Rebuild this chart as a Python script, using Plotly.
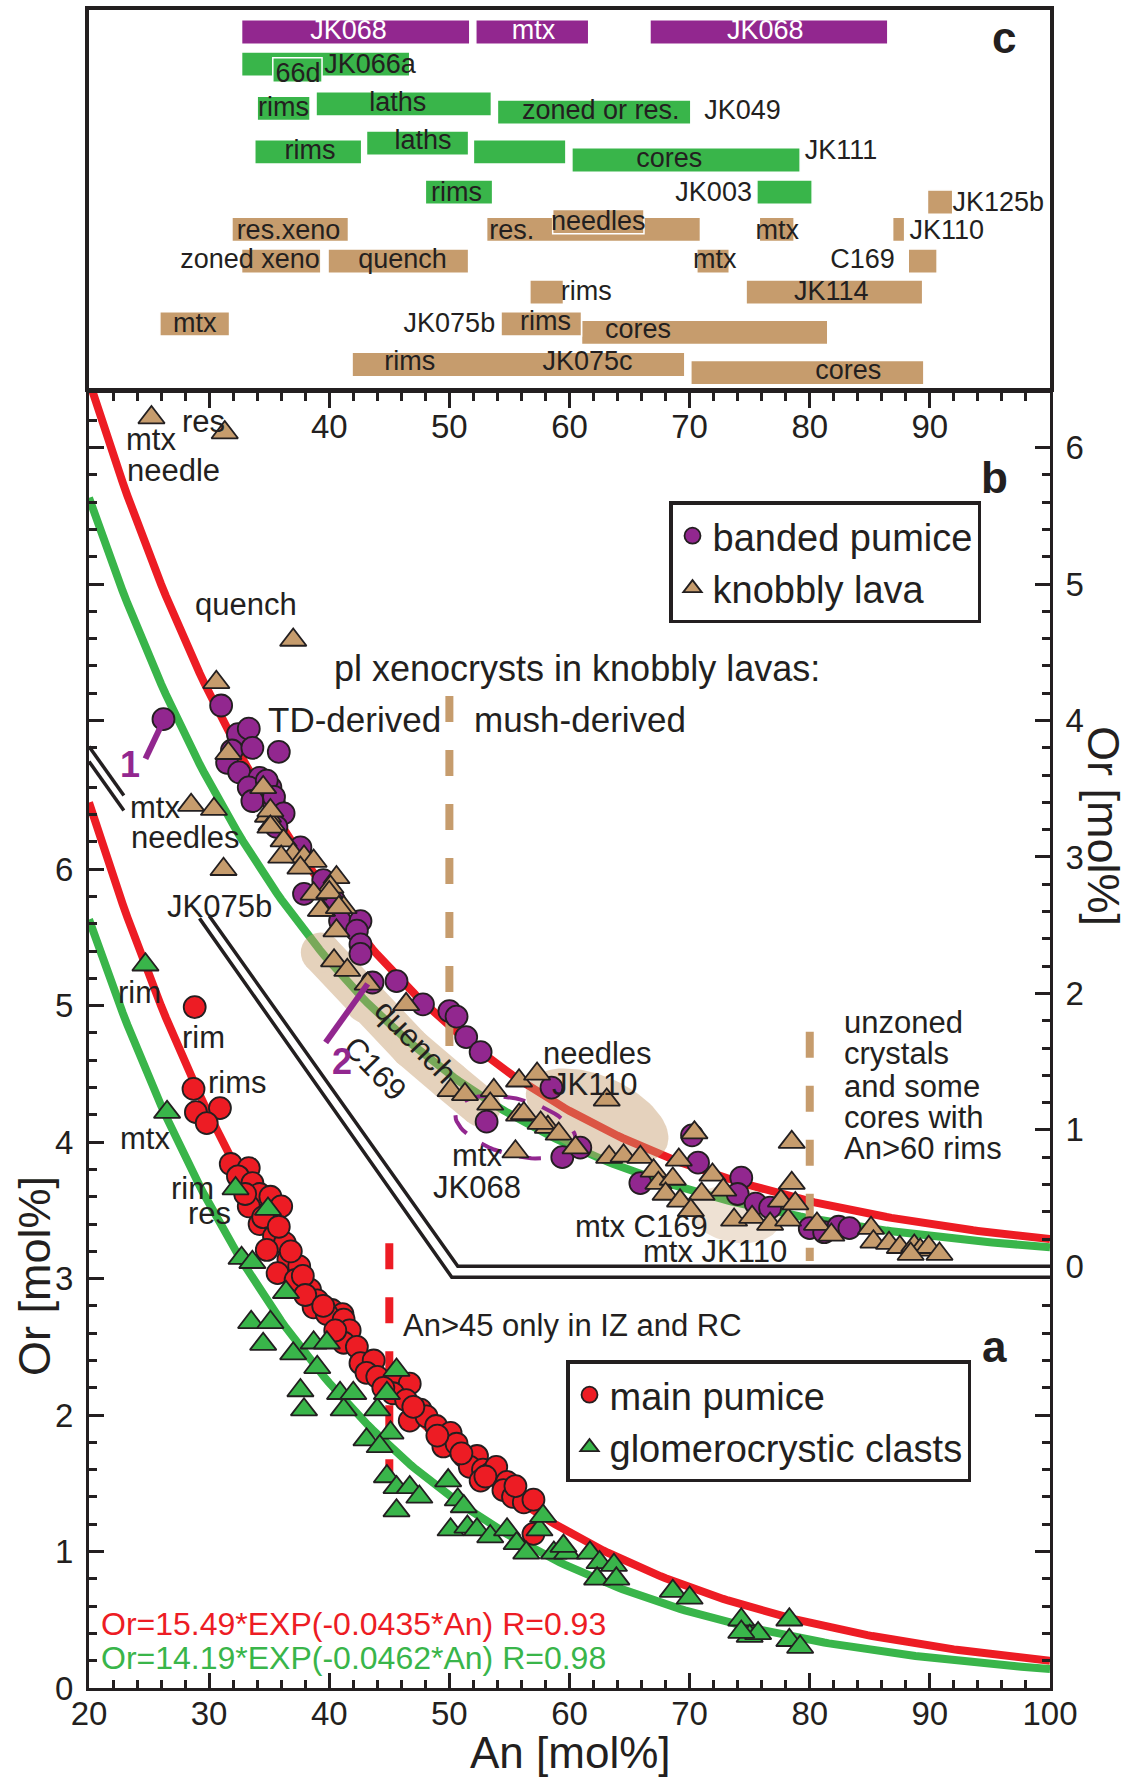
import numpy as np
import plotly.graph_objects as go

# ---------------- figure geometry ----------------
W, H = 1130, 1777
M_L, M_R, M_T, M_B = 89, 80, 10, 89
PLOT_W = W - M_L - M_R
PLOT_H = H - M_T - M_B
X_RANGE = [20, 100]
Y_TOP_A = 9.49          # top of panel a/b axis in panel-a units
B_SHIFT = 3.09          # panel b zero sits at Or_a = 3.09
MAIN_TOP = 0.77175
C_BOTTOM = 0.77473
C_LANE_RANGE = [10.648, 0.404]

RED = '#ED1C24'
GREEN = '#39B54A'
PURPLE = '#92278F'
TAN = '#C69C6D'
INK = '#231F20'
FONT = 'Liberation Sans, Arial, Helvetica, sans-serif'

# ---------------- fit equations ----------------
FIT_RED_A, FIT_RED_K = 15.49, -0.0435
FIT_GREEN_A, FIT_GREEN_K = 14.19, -0.0462

# ---------------- panel a data ----------------
AN_MAIN = [28.8, 28.7, 28.9, 30.9, 29.8, 31.8, 33.3, 32.4, 33.6, 34.2, 35.1, 36.0, 33.3, 34.2,
           35.4, 36.3, 34.8, 36.6, 37.5, 35.7, 37.2, 38.4, 39.0, 40.2, 41.1, 38.7, 39.8, 41.2,
           41.7, 41.2, 42.3, 42.6, 43.7, 43.1, 44.0, 45.6, 46.7, 45.3, 46.4, 47.6, 46.7, 48.1,
           48.9, 50.1, 49.5, 50.6, 51.2, 52.3, 51.7, 52.8, 53.4, 53.9, 52.6, 54.8, 54.5, 55.3,
           56.2, 57.0, 57.0, 33.0, 34.5, 35.8, 36.8, 37.8, 38.0, 39.5, 40.5, 44.5, 47.0, 49.0,
           51.0, 53.0, 55.5]
OR_MAIN = [4.99, 4.39, 4.22, 4.25, 4.14, 3.84, 3.81, 3.75, 3.70, 3.62, 3.60, 3.53, 3.53, 3.40,
           3.31, 3.26, 3.21, 3.14, 3.09, 3.04, 2.99, 2.92, 2.84, 2.77, 2.74, 2.79, 2.74, 2.70,
           2.62, 2.53, 2.50, 2.38, 2.40, 2.31, 2.28, 2.26, 2.23, 2.16, 2.11, 2.04, 1.96, 1.99,
           1.92, 1.87, 1.77, 1.79, 1.70, 1.70, 1.62, 1.60, 1.57, 1.62, 1.52, 1.51, 1.45, 1.40,
           1.36, 1.38, 1.13, 3.62, 3.45, 3.38, 3.20, 3.02, 2.88, 2.80, 2.62, 2.20, 2.06, 1.85,
           1.72, 1.55, 1.48]

AN_GLOM = [24.7, 26.5, 32.2, 34.9, 32.7, 33.6, 36.4, 33.5, 35.1, 34.5, 37.0, 38.7, 39.8, 39.0,
           37.6, 37.9, 40.9, 41.2, 42.0, 44.0, 44.8, 45.6, 45.1, 43.1, 44.2, 44.8, 45.6, 46.7,
           47.5, 45.6, 49.9, 50.7, 51.2, 50.1, 51.5, 52.3, 53.4, 54.8, 55.6, 56.4, 57.5, 57.8,
           58.7, 59.8, 59.5, 61.7, 62.5, 62.3, 63.7, 63.9, 68.6, 70.0, 74.3, 75.0, 75.7, 78.3,
           78.3, 79.2, 74.3]
OR_GLOM = [5.30, 4.22, 3.66, 3.51, 3.15, 3.12, 2.90, 2.68, 2.68, 2.52, 2.45, 2.53, 2.53, 2.35,
           2.18, 2.04, 2.16, 2.04, 2.16, 2.04, 2.16, 2.33, 1.87, 1.82, 1.77, 1.55, 1.47, 1.47,
           1.40, 1.30, 1.52, 1.38, 1.33, 1.16, 1.18, 1.16, 1.11, 1.16, 1.06, 0.99, 1.16, 1.26,
           0.99, 0.99, 1.04, 0.99, 0.92, 0.80, 0.90, 0.80, 0.71, 0.66, 0.50, 0.38, 0.40, 0.50,
           0.35, 0.30, 0.41]

# ---------------- panel b data ----------------
AN_BAND = [26.2, 31.0, 32.4, 33.3, 31.9, 33.6, 35.8, 31.5, 32.5, 34.2, 33.3, 35.1, 33.6, 35.4,
           34.8, 35.4, 36.2, 35.6, 37.6, 37.9, 39.5, 40.4, 40.9, 42.6, 42.3, 42.6, 42.6, 43.6,
           45.6, 47.8, 50.0, 50.6, 51.4, 52.6, 53.1, 58.5, 59.4, 60.9, 65.9, 70.2, 70.7, 74.3,
           74.0, 75.5, 76.7, 80.0, 81.2, 82.4, 83.3]
OR_BAND = [4.01, 4.11, 3.90, 3.94, 3.78, 3.80, 3.77, 3.69, 3.62, 3.58, 3.51, 3.51, 3.41, 3.39,
           3.56, 3.44, 3.32, 3.22, 3.07, 2.73, 2.83, 2.68, 2.53, 2.53, 2.46, 2.36, 2.29, 2.08,
           2.09, 1.92, 1.87, 1.83, 1.68, 1.57, 1.06, 1.31, 0.80, 0.87, 0.61, 0.96, 0.76, 0.65,
           0.53, 0.46, 0.43, 0.28, 0.25, 0.29, 0.28]

AN_KNOB = [25.2, 31.3, 37.0, 30.6, 31.6, 34.5, 28.5, 30.4, 34.9, 35.2, 31.2, 35.1, 35.1, 36.2,
           37.0, 37.9, 38.7, 37.6, 40.6, 40.1, 38.7, 39.4, 41.2, 40.6, 40.4, 41.5, 43.2, 46.4,
           36.0, 40.0, 39.3, 40.8, 50.1, 51.3, 53.7, 53.4, 55.8, 57.3, 55.8, 58.2, 55.5, 56.2,
           57.6, 59.1, 63.1, 60.5, 63.3, 64.5, 65.9, 67.0, 67.4, 68.6, 69.1, 70.4, 68.0, 69.2,
           71.9, 72.8, 71.0, 70.1, 73.7, 75.2, 76.7, 78.2, 78.5, 77.6, 78.8, 78.5, 80.6, 81.8,
           85.1, 85.3, 86.6, 87.5, 88.7, 89.2, 89.9, 90.8, 88.4]
OR_KNOB = [6.22, 6.11, 4.59, 4.28, 3.76, 3.51, 3.38, 3.35, 3.30, 3.24, 2.91, 3.34, 3.22, 3.12,
           3.02, 3.00, 2.97, 2.92, 2.85, 2.78, 2.73, 2.61, 2.63, 2.46, 2.24, 2.17, 2.07, 1.92,
           3.00, 2.74, 2.61, 2.63, 1.29, 1.26, 1.29, 1.19, 1.36, 1.41, 1.11, 1.02, 0.84, 1.12,
           1.05, 0.97, 1.22, 0.87, 0.80, 0.81, 0.80, 0.70, 0.61, 0.64, 0.78, 0.98, 0.53, 0.48,
           0.67, 0.56, 0.53, 0.41, 0.34, 0.36, 0.31, 0.34, 0.61, 0.48, 0.46, 0.91, 0.31, 0.23,
           0.28, 0.18, 0.17, 0.14, 0.15, 0.12, 0.14, 0.09, 0.09]

# ---------------- panel c data (An ranges per sample/type) ----------------
C_BAR_LANE = [1.0, 1.0, 1.0, 1.87, 2.03, 3.07, 3.17, 2.95, 4.25, 4.47, 4.25, 4.01, 5.34, 5.34,
              5.61, 6.35, 6.35, 6.14, 6.35, 6.35, 7.21, 7.21, 7.21, 7.21, 8.05, 8.05, 8.91,
              9.14, 8.91, 10.01, 10.23]
C_BAR_START = [32.7, 52.2, 66.7, 32.7, 35.3, 34.0, 54.0, 38.9, 33.8, 60.2, 52.0, 43.1, 48.0, 75.6,
               89.8, 31.9, 53.1, 58.6, 75.8, 86.9, 32.7, 39.9, 70.6, 88.2, 56.7, 74.7, 25.9,
               61.0, 54.3, 41.9, 70.1]
C_BAR_END = [51.7, 61.6, 86.5, 46.7, 39.4, 38.4, 70.1, 53.5, 42.7, 79.2, 59.7, 51.6, 53.6, 80.2,
             91.9, 41.6, 70.9, 66.2, 78.7, 87.9, 39.3, 51.6, 73.3, 90.6, 59.5, 89.4, 31.7,
             81.5, 61.0, 69.6, 89.5]
C_BAR_GROUP = ['P', 'P', 'P', 'G', 'G', 'G', 'G', 'G', 'G', 'G', 'G', 'G', 'G', 'G',
               'T', 'T', 'T', 'T', 'T', 'T', 'T', 'T', 'T', 'T', 'T', 'T', 'T',
               'T', 'T', 'T', 'T']

C_LABEL_TEXT = ['JK068', 'mtx', 'JK068', '66d', 'JK066a', 'rims', 'laths', 'zoned or res.', 'JK049',
                'rims', 'laths', 'cores', 'JK111', 'rims', 'JK003', 'JK125b', 'res.xeno', 'res.',
                'needles', 'mtx', 'JK110', 'zoned xeno', 'quench', 'mtx', 'C169', 'rims', 'JK114',
                'mtx', 'JK075b', 'rims', 'cores', 'rims', 'JK075c', 'cores']
C_LABEL_AN = [41.6, 57.0, 76.3, 37.4, 43.4, 36.2, 45.7, 62.6, 74.4,
              38.4, 47.8, 68.3, 82.6, 50.6, 72.0, 95.7, 36.6, 55.2,
              62.4, 77.3, 91.4, 33.4, 46.1, 72.1, 84.4, 61.4, 81.8,
              28.8, 50.0, 58.0, 65.7, 46.7, 61.5, 83.2]
C_LABEL_LANE = [1.0, 1.0, 1.0, 2.17, 1.94, 3.09, 2.95, 3.18, 3.18,
                4.25, 4.0, 4.47, 4.25, 5.4, 5.4, 5.66, 6.42, 6.42,
                6.19, 6.42, 6.42, 7.21, 7.21, 7.21, 7.21, 8.09, 8.09,
                8.95, 8.95, 8.9, 9.1, 9.98, 9.98, 10.21]
C_LABEL_ON_PURPLE = [True, True, True] + [False] * 31

# ---------------- reference lines / highlights ----------------
TAN_DASH_50 = dict(an=[50, 50], b=[4.18, 1.58])
TAN_DASH_80 = dict(an=[80, 80], b=[1.72, 0.04])
RED_DASH_45 = dict(an=[45, 45], a=[3.26, 1.57])
SEP_UPPER_AN = [20, 22.9, None, 30.0, 50.7, 100]
SEP_UPPER_A = [6.90, 6.54, None, 5.66, 3.09, 3.09]
SEP_LOWER_AN = [20, 22.9, None, 29.2, 50.2, 100]
SEP_LOWER_A = [6.79, 6.43, None, 5.64, 3.01, 3.01]
BAND_AN = [39.3, 43.0, 46.8, 50.0, 52.6]
BAND_B = [2.30, 1.93, 1.60, 1.36, 1.17]
PURPLE_1_AN = [26.1, 24.7]
PURPLE_1_B = [3.98, 3.72]
PURPLE_2_AN = [43.2, 39.7]
PURPLE_2_B = [2.07, 1.64]

# ---------------- helpers ----------------
PX_PER_AN = PLOT_W / (X_RANGE[1] - X_RANGE[0])
PX_PER_OR = PLOT_H * MAIN_TOP / Y_TOP_A


def ellipse(c_an, c_or, rx, ry, ang_deg):
    t = np.linspace(0, 2 * np.pi, 91)
    a = np.radians(ang_deg)
    dx = rx * np.cos(t) * np.cos(a) - ry * np.sin(t) * np.sin(a)
    dy = rx * np.cos(t) * np.sin(a) + ry * np.sin(t) * np.cos(a)
    return c_an + dx / PX_PER_AN, c_or - dy / PX_PER_OR


def ypaper(px_from_top):
    return (M_T + PLOT_H - px_from_top) / PLOT_H


def xpaper(px_from_left):
    return (px_from_left - M_L) / PLOT_W


fig = go.Figure()

# ---------------- panel c ----------------
group_color = {'P': PURPLE, 'G': GREEN, 'T': TAN}
for g in ['P', 'G', 'T']:
    idx = [i for i, gg in enumerate(C_BAR_GROUP) if gg == g]
    fig.add_trace(go.Bar(
        orientation='h',
        y=[C_BAR_LANE[i] for i in idx],
        base=[C_BAR_START[i] for i in idx],
        x=[C_BAR_END[i] - C_BAR_START[i] for i in idx],
        width=0.66,
        marker=dict(color=group_color[g], line=dict(color='white', width=1.5)),
        xaxis='x3', yaxis='y3', showlegend=False, hoverinfo='skip'))

for on_purple, col in [(True, 'white'), (False, INK)]:
    idx = [i for i, p in enumerate(C_LABEL_ON_PURPLE) if p == on_purple]
    fig.add_trace(go.Scatter(
        x=[C_LABEL_AN[i] for i in idx], y=[C_LABEL_LANE[i] for i in idx],
        text=[C_LABEL_TEXT[i] for i in idx], mode='text', textposition='middle center',
        textfont=dict(family=FONT, size=27, color=col),
        xaxis='x3', yaxis='y3', showlegend=False, hoverinfo='skip'))

# ---------------- curves ----------------
an_curve = np.linspace(X_RANGE[0], X_RANGE[1], 201)
red_curve = FIT_RED_A * np.exp(FIT_RED_K * an_curve)
green_curve = FIT_GREEN_A * np.exp(FIT_GREEN_K * an_curve)
for ax_x, ax_y in [('x', 'y'), ('x2', 'y2')]:
    fig.add_trace(go.Scatter(x=an_curve, y=red_curve, mode='lines', line=dict(color=RED, width=8),
                             xaxis=ax_x, yaxis=ax_y, showlegend=False, hoverinfo='skip'))
    fig.add_trace(go.Scatter(x=an_curve, y=green_curve, mode='lines', line=dict(color=GREEN, width=8),
                             xaxis=ax_x, yaxis=ax_y, showlegend=False, hoverinfo='skip'))

# dashed markers
fig.add_trace(go.Scatter(x=RED_DASH_45['an'], y=RED_DASH_45['a'], mode='lines',
                         line=dict(color=RED, width=8, dash='26px,28px'),
                         showlegend=False, hoverinfo='skip'))
for d in [TAN_DASH_50, TAN_DASH_80]:
    fig.add_trace(go.Scatter(x=d['an'], y=d['b'], mode='lines',
                             line=dict(color=TAN, width=8, dash='26px,28px'),
                             xaxis='x2', yaxis='y2', showlegend=False, hoverinfo='skip'))

# separators between panels a and b
for xs, ys in [(SEP_UPPER_AN, SEP_UPPER_A), (SEP_LOWER_AN, SEP_LOWER_A)]:
    fig.add_trace(go.Scatter(x=xs, y=ys, mode='lines', line=dict(color=INK, width=3.5),
                             connectgaps=False, showlegend=False, hoverinfo='skip'))

# ---------------- panel a markers ----------------
fig.add_trace(go.Scatter(x=AN_MAIN, y=OR_MAIN, mode='markers', name='main pumice',
                         marker=dict(symbol='circle', size=22, color=RED, line=dict(color=INK, width=1.8)),
                         legend='legend'))
fig.add_trace(go.Scatter(x=AN_GLOM, y=OR_GLOM, mode='markers', name='glomerocrystic clasts',
                         marker=dict(symbol='triangle-up', size=23, color=GREEN, line=dict(color=INK, width=1.8)),
                         legend='legend'))

# ---------------- panel b highlights ----------------
fig.add_trace(go.Scatter(x=BAND_AN, y=BAND_B, mode='lines+markers',
                         line=dict(color=TAN, width=40), marker=dict(size=40, color=TAN, line=dict(width=0)),
                         opacity=0.45, xaxis='x2', yaxis='y2', showlegend=False, hoverinfo='skip'))
ex, ey = ellipse(62.3, 1.10, 76, 40, 24)
fig.add_trace(go.Scatter(x=ex, y=ey, mode='lines', fill='toself', fillcolor=TAN, line=dict(width=0),
                         opacity=0.45, xaxis='x2', yaxis='y2', showlegend=False, hoverinfo='skip'))
ex, ey = ellipse(73.8, 0.38, 46, 28, 10)
fig.add_trace(go.Scatter(x=ex, y=ey, mode='lines', fill='toself', fillcolor=TAN, line=dict(width=0),
                         opacity=0.3, xaxis='x2', yaxis='y2', showlegend=False, hoverinfo='skip'))
ex, ey = ellipse(55.5, 1.02, 62, 28, 15)
fig.add_trace(go.Scatter(x=ex, y=ey, mode='lines', line=dict(color=PURPLE, width=4, dash='22px,18px'),
                         xaxis='x2', yaxis='y2', showlegend=False, hoverinfo='skip'))

# ---------------- panel b markers ----------------
fig.add_trace(go.Scatter(x=AN_BAND, y=OR_BAND, mode='markers', name='banded pumice',
                         marker=dict(symbol='circle', size=22, color=PURPLE, line=dict(color=INK, width=1.8)),
                         xaxis='x2', yaxis='y2', legend='legend2'))
fig.add_trace(go.Scatter(x=AN_KNOB, y=OR_KNOB, mode='markers', name='knobbly lava',
                         marker=dict(symbol='triangle-up', size=23, color=TAN, line=dict(color=INK, width=1.8)),
                         xaxis='x2', yaxis='y2', legend='legend2'))

for xs, ys in [(PURPLE_1_AN, PURPLE_1_B), (PURPLE_2_AN, PURPLE_2_B)]:
    fig.add_trace(go.Scatter(x=xs, y=ys, mode='lines', line=dict(color=PURPLE, width=6),
                             xaxis='x2', yaxis='y2', showlegend=False, hoverinfo='skip'))

# ---------------- annotations ----------------
anns = []


def ann(text, x, y, xref='x', yref='y', size=31, color=INK, xanchor='center', bold=False, angle=0,
        yanchor='middle'):
    anns.append(dict(text=('<b>%s</b>' % text) if bold else text, x=x, y=y, xref=xref, yref=yref,
                     showarrow=False, xanchor=xanchor, yanchor=yanchor, textangle=angle,
                     font=dict(family=FONT, size=size, color=color)))


# panel b labels
for t, x, y in [('mtx', 25.2, 6.06), ('res', 29.5, 6.19), ('needle', 27.0, 5.83),
                ('quench', 33.1, 4.85), ('mtx', 25.5, 3.36), ('needles', 28.0, 3.14),
                ('JK075b', 30.9, 2.64), ('needles', 62.3, 1.56), ('JK110', 62.1, 1.33),
                ('mtx', 52.3, 0.81), ('JK068', 52.3, 0.58), ('mtx C169', 66.0, 0.29),
                ('mtx JK110', 72.1, 0.11)]:
    ann(t, x, y, 'x2', 'y2')
ann('pl xenocrysts in knobbly lavas:', 40.2, 4.38, 'x2', 'y2', size=36, xanchor='left')
ann('TD-derived', 42.1, 4.01, 'x2', 'y2', size=35)
ann('mush-derived', 60.9, 4.01, 'x2', 'y2', size=35)
ann('quench', 47.2, 1.65, 'x2', 'y2', angle=46)
ann('C169', 43.8, 1.45, 'x2', 'y2', angle=46)
ann('1', 23.4, 3.68, 'x2', 'y2', size=36, color=PURPLE, bold=True)
ann('2', 41.1, 1.50, 'x2', 'y2', size=36, color=PURPLE, bold=True)
for t, y in [('unzoned', 1.79), ('crystals', 1.56), ('and some', 1.32), ('cores with', 1.09),
             ('An>60 rims', 0.86)]:
    ann(t, 82.7, y, 'x2', 'y2', xanchor='left')
ann('b', 95.4, 5.78, 'x2', 'y2', size=44, bold=True)

# panel a labels
for t, x, y in [('rim', 24.2, 5.10), ('rim', 29.5, 4.77), ('rims', 32.4, 4.44), ('mtx', 24.7, 4.03),
                ('rim', 28.6, 3.66), ('res', 30.0, 3.48)]:
    ann(t, x, y)
ann('An>45 only in IZ and RC', 46.0, 2.66, xanchor='left')
ann('Or=%.2f*EXP(%.4f*An) R=0.93' % (FIT_RED_A, FIT_RED_K), 20.8, 0.47, size=32, color=RED, xanchor='left')
ann('Or=%.2f*EXP(%.4f*An) R=0.98' % (FIT_GREEN_A, FIT_GREEN_K), 20.8, 0.22, size=32, color=GREEN, xanchor='left')
ann('a', 95.4, 2.50, size=44, bold=True)

# panel c letter
ann('c', 96.2, 1.14, 'x3', 'y3', size=44, bold=True)

# axis titles
ann('An [mol%]', xpaper(570), ypaper(1752), 'paper', 'paper', size=44)
ann('Or [mol%]', xpaper(34), ypaper(1276), 'paper', 'paper', size=45, angle=-90)
ann('Or [mol%]', xpaper(1103), ypaper(826), 'paper', 'paper', size=45, angle=90)

# ---------------- ticks ----------------
def frange(a, b, step):
    n = int(round((b - a) / step))
    return [round(a + i * step, 4) for i in range(n + 1)]


a_minor = [v for v in frange(0.2, 6.6, 0.2) if abs(v - round(v)) > 1e-6]
b_minor_left = [round(v + B_SHIFT, 4) for v in frange(3.8, 6.4, 0.2) if abs(v - round(v)) > 1e-6]
y_major = [0, 1, 2, 3, 4, 5, 6] + [round(v + B_SHIFT, 4) for v in [4, 5, 6]]
y_text = ['0', '1', '2', '3', '4', '5', '6', '', '', '']

b_minor = [v for v in frange(0.2, 6.4, 0.2) if abs(v - round(v)) > 1e-6]
a_minor_right = [round(v - B_SHIFT, 4) for v in frange(0.2, 2.8, 0.2) if abs(v - round(v)) > 1e-6]
y2_major = [0, 1, 2, 3, 4, 5, 6] + [round(v - B_SHIFT, 4) for v in [1, 2]]
y2_text = ['0', '1', '2', '3', '4', '5', '6', '', '']

tickfont = dict(family=FONT, size=33, color=INK)
common = dict(showgrid=False, zeroline=False, showline=True, linecolor=INK, linewidth=3,
              ticks='inside', ticklen=15, tickwidth=3, tickcolor=INK, tickfont=tickfont)
minor_common = dict(ticks='inside', ticklen=8, tickwidth=2.5, tickcolor=INK)
legend_common = dict(bgcolor='white', bordercolor=INK, borderwidth=3.5,
                     font=dict(family=FONT, size=38, color=INK), itemsizing='trace',
                     tracegroupgap=0, itemwidth=30, xanchor='left', yanchor='middle')

fig.update_layout(
    width=W, height=H,
    margin=dict(l=M_L, r=M_R, t=M_T, b=M_B, autoexpand=False),
    paper_bgcolor='white', plot_bgcolor='rgba(0,0,0,0)',
    barmode='overlay',
    font=dict(family=FONT, color=INK),
    xaxis=dict(domain=[0, 1], range=X_RANGE, anchor='y', side='bottom',
               tickmode='array', tickvals=list(range(20, 101, 10)),
               minor=dict(tickvals=[v for v in range(22, 100, 2) if v % 10], **minor_common),
               ticklabelstandoff=-6, **common),
    xaxis2=dict(domain=[0, 1], range=X_RANGE, anchor='y2', side='top', overlaying='x',
                tickmode='array', tickvals=list(range(30, 100, 10)),
                ticktext=['', '40', '50', '60', '70', '80', '90'],
                ticklabelposition='inside', ticklabelstandoff=11,
                minor=dict(tickvals=[v for v in range(22, 100, 2) if v % 10], **minor_common),
                **common),
    yaxis=dict(domain=[0, MAIN_TOP], range=[0, Y_TOP_A], anchor='x', side='left',
               tickmode='array', tickvals=y_major, ticktext=y_text,
               minor=dict(tickvals=a_minor + b_minor_left, **minor_common),
               ticklabelstandoff=6, **common),
    yaxis2=dict(domain=[0, MAIN_TOP], range=[-B_SHIFT, Y_TOP_A - B_SHIFT], anchor='x2', side='right',
                overlaying='y', tickmode='array', tickvals=y2_major, ticktext=y2_text,
                minor=dict(tickvals=b_minor + a_minor_right, **minor_common),
                ticklabelstandoff=6, **common),
    xaxis3=dict(domain=[0, 1], range=X_RANGE, anchor='y3', showgrid=False, zeroline=False,
                showline=True, mirror=True, linecolor=INK, linewidth=3.5, ticks='',
                showticklabels=False),
    yaxis3=dict(domain=[C_BOTTOM, 1], range=C_LANE_RANGE, anchor='x3', showgrid=False, zeroline=False,
                showline=True, mirror=True, linecolor=INK, linewidth=3.5, ticks='',
                showticklabels=False),
    legend=dict(x=xpaper(566), y=ypaper(1421), **legend_common),
    legend2=dict(x=xpaper(669), y=ypaper(562), **legend_common),
    annotations=anns,
)

fig.write_html('out.html')
